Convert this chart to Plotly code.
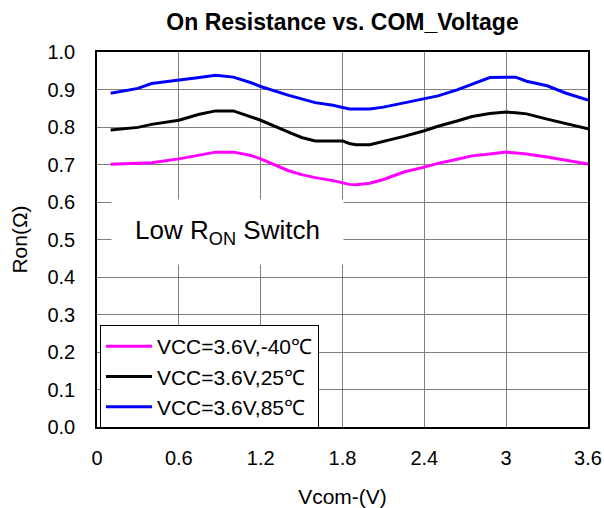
import plotly.graph_objects as go

vcom = [0.1, 0.3, 0.4, 0.6, 0.75, 0.87, 1.0, 1.13, 1.2, 1.4, 1.5, 1.6, 1.73, 1.8, 1.85,
        1.9, 2.0, 2.1, 2.25, 2.4, 2.5, 2.64, 2.75, 2.88, 3.0, 3.07, 3.15, 3.3, 3.44, 3.6]

ron_m40 = [0.701, 0.704, 0.705, 0.715, 0.725, 0.733, 0.733, 0.724, 0.715, 0.684, 0.673, 0.665,
           0.657, 0.652, 0.647, 0.646, 0.650, 0.660, 0.680, 0.693, 0.703, 0.714, 0.723, 0.728,
           0.733, 0.731, 0.728, 0.720, 0.711, 0.701]

ron_25 = [0.792, 0.799, 0.807, 0.818, 0.834, 0.843, 0.843, 0.828, 0.818, 0.787, 0.772, 0.763,
          0.763, 0.763, 0.756, 0.753, 0.753, 0.761, 0.775, 0.790, 0.802, 0.816, 0.828, 0.836,
          0.840, 0.838, 0.835, 0.821, 0.808, 0.795]

ron_85 = [0.890, 0.903, 0.916, 0.924, 0.932, 0.938, 0.933, 0.918, 0.908, 0.885, 0.874, 0.865,
          0.858, 0.852, 0.848, 0.848, 0.848, 0.853, 0.864, 0.876, 0.883, 0.899, 0.915, 0.932,
          0.933, 0.933, 0.922, 0.910, 0.890, 0.872]

series_names = ["VCC=3.6V,-40\u2103", "VCC=3.6V,25\u2103", "VCC=3.6V,85\u2103"]
series_colors = ["#FF00FF", "#000000", "#0000FF"]

x_ticks = [0, 0.6, 1.2, 1.8, 2.4, 3.0, 3.6]
x_tick_labels = ["0", "0.6", "1.2", "1.8", "2.4", "3", "3.6"]
y_ticks = [0.0, 0.1, 0.2, 0.3, 0.4, 0.5, 0.6, 0.7, 0.8, 0.9, 1.0]
y_tick_labels = ["0.0", "0.1", "0.2", "0.3", "0.4", "0.5", "0.6", "0.7", "0.8", "0.9", "1.0"]

FONT = "Liberation Sans, Arial, sans-serif"

fig = go.Figure()
for i, (vals, name, col) in enumerate(zip([ron_m40, ron_25, ron_85], series_names, series_colors)):
    fig.add_trace(go.Scatter(x=vcom, y=vals, mode="lines", name=name,
                             legendgroup="g%d" % i,
                             line=dict(color=col, width=3)))

fig.update_layout(
    width=604, height=508,
    margin=dict(l=97, r=16, t=52, b=81, autoexpand=False),
    paper_bgcolor="white", plot_bgcolor="white",
    font=dict(family=FONT, color="black", size=20),
    title=dict(text="<b>On Resistance vs. COM_Voltage</b>", x=0.5, xref="paper",
               xanchor="center", y=1 - 22 / 508, yref="container", yanchor="middle",
               font=dict(size=23, family=FONT, color="black")),
    showlegend=True,
    legend=dict(x=0.006, y=0.272, xanchor="left", yanchor="top",
                bgcolor="white", bordercolor="black", borderwidth=1,
                font=dict(size=21, family=FONT), tracegroupgap=5,
                itemwidth=46, traceorder="normal"),
    xaxis=dict(range=[0, 3.6], tickvals=x_ticks, ticktext=x_tick_labels,
               showgrid=True, gridcolor="#808080", gridwidth=1,
               showline=True, linecolor="black", linewidth=1.5, mirror=True,
               ticks="", ticklabelstandoff=12, zeroline=False, automargin=False,
               tickfont=dict(size=20),
               title=dict(text="Vcom-(V)", font=dict(size=21), standoff=34)),
    yaxis=dict(range=[0, 1.0], tickvals=y_ticks, ticktext=y_tick_labels,
               showgrid=True, gridcolor="#808080", gridwidth=1,
               showline=True, linecolor="black", linewidth=1.5, mirror=True,
               ticks="", ticklabelstandoff=16, zeroline=False, automargin=False,
               tickfont=dict(size=20),
               title=dict(text="Ron(\u03a9)", font=dict(size=21), standoff=14)),
)

fig.add_annotation(x=0.957, y=0.521, xref="x", yref="y",
                   text="Low R<sub>ON</sub> Switch", showarrow=False,
                   font=dict(size=26, family=FONT, color="black"),
                   bgcolor="white", width=231, height=64, borderpad=0,
                   align="center", valign="middle")

fig.write_html("out.html",
               config={"displayModeBar": False},
               post_script="document.body.style.margin='0';document.body.style.overflow='hidden';")
